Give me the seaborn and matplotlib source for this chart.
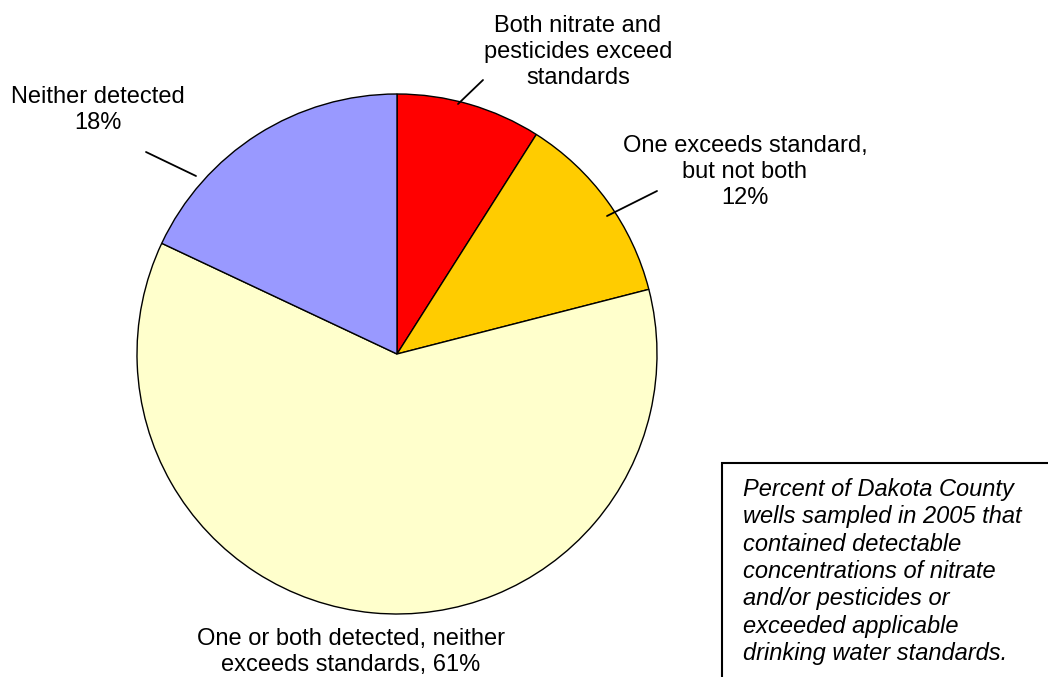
import matplotlib
matplotlib.use("Agg")
import matplotlib.pyplot as plt
import matplotlib.patches as patches
import seaborn as sns

# slice data (clockwise from 12 o'clock)
categories = [
    "Both nitrate and\npesticides exceed\nstandards",
    "One exceeds standard,\nbut not both\n12%",
    "One or both detected, neither\nexceeds standards, 61%",
    "Neither detected\n18%",
]
shares = [9, 12, 61, 18]
colors = ["#FF0000", "#FFCC00", "#FFFFCC", "#9999FF"]

note = ("Percent of Dakota County\nwells sampled in 2005 that\ncontained detectable\n"
        "concentrations of nitrate\nand/or pesticides or\nexceeded applicable\n"
        "drinking water standards.")

sns.set_style("white")
plt.rcParams['font.family'] = ['Liberation Sans', 'DejaVu Sans']

W, H = 1048, 677
fig = plt.figure(figsize=(W / 100, H / 100), dpi=100)
ax = fig.add_axes([0, 0, 1, 1])

def py(y):
    # convert image row to data y
    return H - y

ax.pie(shares, colors=colors, startangle=90, counterclock=False,
       center=(397, py(354)), radius=260,
       wedgeprops=dict(edgecolor="black", linewidth=1.0))

ax.set_xlim(0, W)
ax.set_ylim(0, H)
ax.set_aspect("equal")
ax.axis("off")

fs = 17
ls = 1.24
# labels: (x, y-center of block, text)
label_pos = [(578, 52), (745, 172), (351, 652), (98, 110)]
for (x, y), txt in zip(label_pos, categories):
    ax.text(x, py(y), txt, ha="center", va="center", fontsize=fs,
            linespacing=ls, color="black")

# leader lines
leaders = [((483, 80), (458, 104)),
           ((657, 191), (607, 216)),
           ((146, 152), (196, 176))]
for (x0, y0), (x1, y1) in leaders:
    ax.plot([x0, x1], [py(y0), py(y1)], color="black", lw=1.3)

# note box
box = patches.Rectangle((722, py(690)), 400, 690 - 463, fill=False,
                        edgecolor="black", linewidth=1.5, clip_on=False)
ax.add_patch(box)
ax.text(743, py(478), note, ha="left", va="top", fontsize=fs,
        style="italic", linespacing=ls, color="black")

fig.savefig("out.png", dpi=100)
